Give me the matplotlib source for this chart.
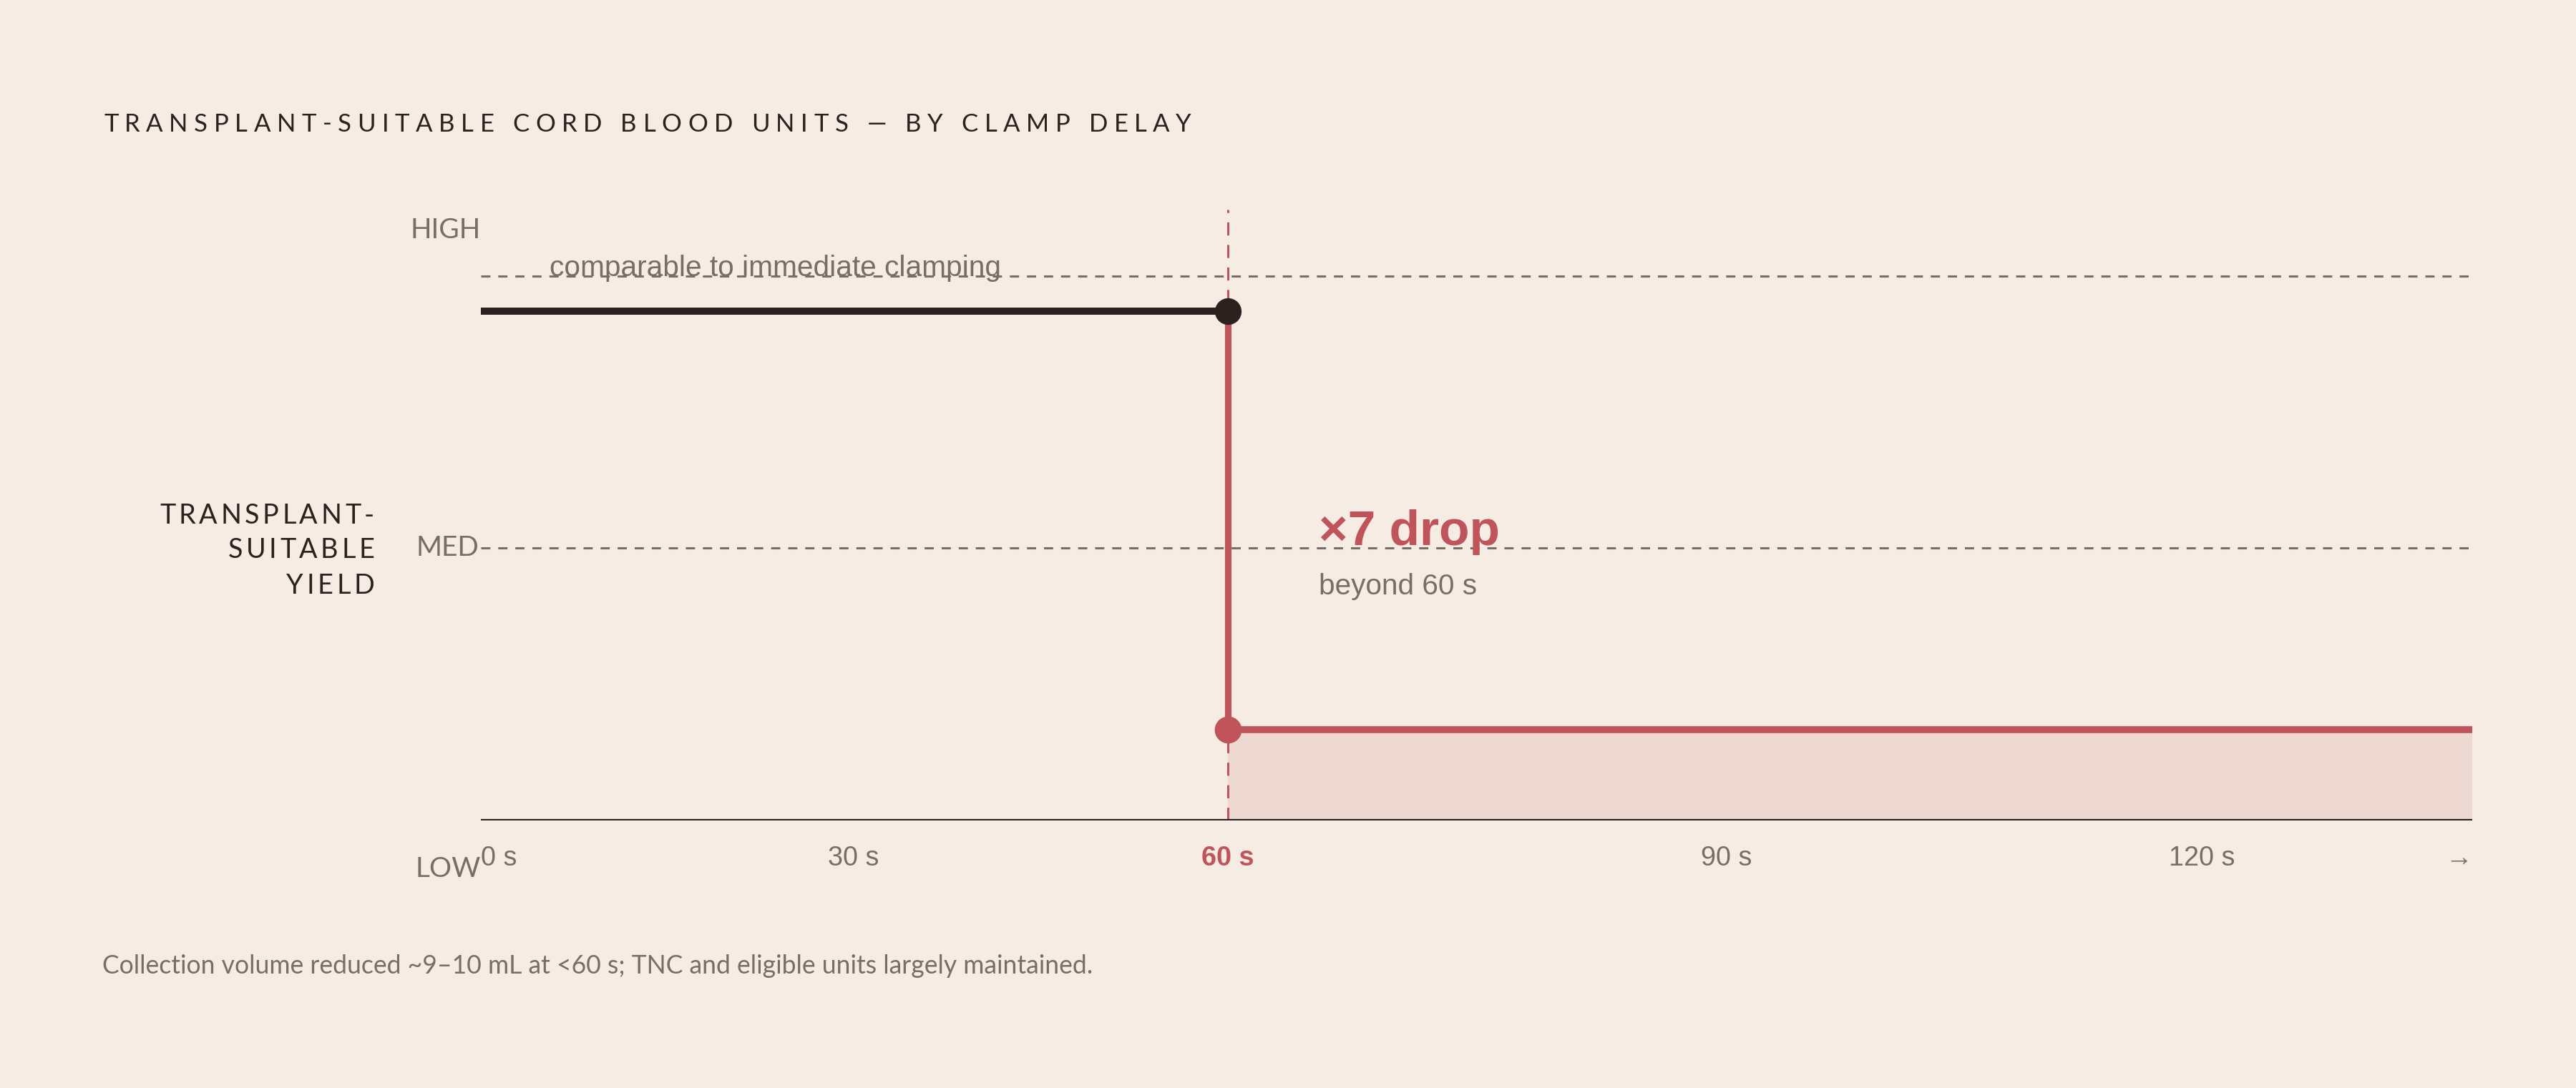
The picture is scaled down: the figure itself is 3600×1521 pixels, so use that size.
import numpy as np
import matplotlib
matplotlib.use("Agg")
import matplotlib.pyplot as plt
import matplotlib.transforms as mtransforms
from matplotlib.font_manager import FontProperties

# ---------------- data ----------------
title = "TRANSPLANT-SUITABLE CORD BLOOD UNITS — BY CLAMP DELAY"
ylabel_lines = ["TRANSPLANT-", "SUITABLE", "YIELD"]
footnote = "Collection volume reduced ~9–10 mL at <60 s; TNC and eligible units largely maintained."

tick_secs = [0, 30, 60, 90, 120, 137]
tick_labels = ["0 s", "30 s", "60 s", "90 s", "120 s", "→"]

level_names = ["HIGH", "MED", "LOW"]
grid_levels = [1.0, 0.5]          # HIGH / MED reference lines

clamp_threshold = 60              # seconds
x_end = 137
yield_before = 0.936              # yield for clamp delay <= 60 s
yield_after = 0.167               # yield for clamp delay > 60 s

drop_label = "×7 drop"
drop_sub = "beyond 60 s"
high_note = "comparable to immediate clamping"

# ---------------- style ----------------
BG = "#f5ede4"
DARK = "#2b211f"
GRAY = "#786d67"
RED = "#c1545a"
FILL = "#edd9d2"
W, H, DPI = 3600, 1521, 200

fig = plt.figure(figsize=(W / DPI, H / DPI), dpi=DPI, facecolor=BG)
ax = fig.add_axes([672 / W, 1 - 1147 / H, (3455 - 672) / W, (1147 - 293) / H])
ax.set_facecolor(BG)

# piecewise scale matching the reference's axis
knot_s = np.array([0, 30, 60, 90, 120, 137], dtype=float)
knot_f = np.array([0, 0.1872, 0.3751, 0.6256, 0.8642, 1.0])
def fwd(x):
    return np.interp(x, knot_s, knot_f)
def inv(f):
    return np.interp(f, knot_f, knot_s)
ax.set_xscale("function", functions=(fwd, inv))
ax.set_xlim(0, x_end)
ax.set_ylim(0, 1.122)

for s in ax.spines.values():
    s.set_visible(False)

# reference gridlines
for lv in grid_levels:
    ax.axhline(lv, color=GRAY, lw=1.1, ls=(0, (4.2, 3.6)), zorder=1)

# threshold dashed line
ax.axvline(clamp_threshold, color=RED, lw=1.1, ls=(0, (6.0, 4.3)), zorder=1)

# fill under post-threshold yield
ax.fill_between([clamp_threshold, x_end], 0, yield_after, color=FILL, lw=0, zorder=0.5)

# baseline
ax.axhline(0, color=DARK, lw=1.5, zorder=3)

# step lines
ax.plot([0, clamp_threshold], [yield_before, yield_before], color=DARK, lw=3.6,
        solid_capstyle="butt", zorder=4)
ax.plot([clamp_threshold, clamp_threshold], [yield_before, yield_after], color=RED, lw=3.3,
        solid_capstyle="butt", zorder=4)
ax.plot([clamp_threshold, x_end], [yield_after, yield_after], color=RED, lw=3.5,
        solid_capstyle="butt", zorder=4)
ax.plot([clamp_threshold], [yield_before], "o", color=DARK, ms=13.4, mew=0, zorder=5)
ax.plot([clamp_threshold], [yield_after], "o", color=RED, ms=13.6, mew=0, zorder=5)

# x tick labels
ax.set_xticks(tick_secs)
ax.set_xticklabels(tick_labels, family=["Liberation Sans", "DejaVu Sans"], fontsize=13.6, color=GRAY)
ax.tick_params(axis="x", length=0, pad=12.5)
ax.set_yticks([])
for lab, sec in zip(ax.get_xticklabels(), tick_secs):
    if sec == 0:
        lab.set_ha("left")
    elif sec == tick_secs[-1]:
        lab.set_ha("right")
    if sec == clamp_threshold:
        lab.set_color(RED)
        lab.set_fontweight("bold")

# y level labels
yax = mtransforms.blended_transform_factory(ax.transAxes, ax.transData)
lato = ["Lato", "DejaVu Sans"]
ax.text(0, 1.084, level_names[0], transform=yax, ha="right", va="center", family=lato,
        fontsize=14, color=GRAY)
ax.text(-0.0010, 0.5, level_names[1], transform=yax, ha="right", va="center", family=lato,
        fontsize=14, color=GRAY)
ax.text(0, -0.089, level_names[2], transform=yax, ha="right", va="center", family=lato,
        fontsize=14, color=GRAY)

# annotations
sans = ["Liberation Sans", "DejaVu Sans"]
ax.text(5.5, 1.0, high_note, ha="left", va="baseline", family=sans, fontsize=14.65, color=GRAY, zorder=6)
off = mtransforms.ScaledTranslation(127 / DPI, 0, fig.dpi_scale_trans)
ax.text(clamp_threshold, (1147 - 762) / 761, drop_label, transform=ax.transData + off,
        ha="left", va="baseline", family=sans, fontsize=25, fontweight="bold", color=RED)
ax.text(clamp_threshold, (1147 - 831) / 761, drop_sub, transform=ax.transData + off,
        ha="left", va="baseline", family=sans, fontsize=14.6, color=GRAY)

# ---------------- tracked text helper ----------------
fig.canvas.draw()
renderer = fig.canvas.get_renderer()

def text_width(s, fp):
    w, h, d = renderer.get_text_width_height_descent(s, fp, ismath=False)
    return w

def tracked(s, x_px, y_base_px, fp, color, tracking_px, align="left"):
    n = len(s)
    total = text_width(s, fp) + tracking_px * (n - 1)
    x0 = x_px if align == "left" else x_px - total
    for i, ch in enumerate(s):
        if ch == " ":
            continue
        xi = x0 + text_width(s[:i], fp) + tracking_px * i if i > 0 else x0
        fig.text(xi / W, 1 - y_base_px / H, ch, fontproperties=fp, color=color,
                 ha="left", va="baseline")

def fit_tracking(s, fp, target_px):
    return (target_px - text_width(s, fp)) / (len(s) - 1)

# title
fp_title = FontProperties(family="Lato", size=12.5)
tr = fit_tracking(title, fp_title, 1665 - 145)
tracked(title, 145, 183.5, fp_title, DARK, tr)

# y axis label
fp_yl = FontProperties(family="Lato", size=13.6)
tr_y = fit_tracking(ylabel_lines[0], fp_yl, 523 - 223)
for line, yb in zip(ylabel_lines, [731.5, 780.5, 829.5]):
    tracked(line, 523, yb, fp_yl, DARK, tr_y, align="right")

# footnote
fig.text(143 / W, 1 - 1361 / H, footnote, family=lato, fontsize=12.8, color=GRAY,
         ha="left", va="baseline")

fig.savefig("out.png", dpi=DPI, facecolor=BG)
